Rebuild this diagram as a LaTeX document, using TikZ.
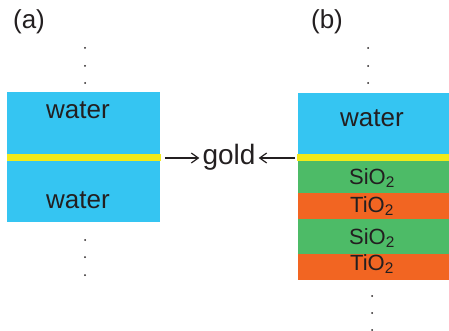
\documentclass[tikz,border=0pt]{standalone}
\usepackage{fontspec}
\setmainfont{Liberation Sans}
\usetikzlibrary{arrows.meta}
\definecolor{waterblue}{HTML}{35C5F2}
\definecolor{goldyellow}{HTML}{F2EA1A}
\definecolor{sio}{HTML}{4DBB67}
\definecolor{tio}{HTML}{F26522}
\definecolor{ink}{HTML}{231F20}
\begin{document}
\begin{tikzpicture}[x=1pt,y=-1pt,
  lbl/.style={text=ink,inner sep=0pt,font=\fontsize{26}{30}\selectfont},
  layerlbl/.style={text=ink,inner sep=0pt,font=\fontsize{22}{26}\selectfont},
  dotmark/.style={fill=ink,circle,inner sep=0pt,minimum size=2pt},
  pointer/.style={draw=ink,line width=1.2pt,shorten >=3pt,
    -{Straight Barb[length=7pt,width=10pt,line width=1.2pt]}}]
\useasboundingbox (0,0) rectangle (449,331);
% panel (a)
\node[lbl] (la) at (29,22) {(a)};
\fill[waterblue] (7,92) rectangle (160,222);
\fill[goldyellow] (7,154) rectangle (161,161);
\node[lbl] (wa1) at (78,110) {water};
\node[lbl] (wa2) at (78,200) {water};
\foreach \y [count=\i] in {48,66,83} \node[dotmark] (ta\i) at (85,\y) {};
\foreach \y [count=\i] in {240,257,275} \node[dotmark] (ba\i) at (85,\y) {};
% panel (b)
\node[lbl] (lb) at (327,22) {(b)};
\fill[waterblue] (298,93) rectangle (449,154);
\fill[goldyellow] (297,154) rectangle (449,161);
\fill[sio] (298,161) rectangle (449,193);
\fill[tio] (298,193) rectangle (449,219);
\fill[sio] (298,219) rectangle (449,254);
\fill[tio] (298,254) rectangle (449,280);
\node[lbl] (wb) at (372,118) {water};
\node[layerlbl] (s1) at (372,178) {SiO\textsubscript{2}};
\node[layerlbl] (t1) at (372,206) {TiO\textsubscript{2}};
\node[layerlbl] (s2) at (372,238) {SiO\textsubscript{2}};
\node[layerlbl] (t2) at (372,264) {TiO\textsubscript{2}};
\foreach \y [count=\i] in {48,66,83} \node[dotmark] (tb\i) at (368,\y) {};
\foreach \y [count=\i] in {296,313,330} \node[dotmark] (bb\i) at (372,\y) {};
% gold label with pointers
\node[lbl,font=\fontsize{28}{32}\selectfont] (gold) at (229,157) {gold};
\coordinate (ga) at (165,158);
\coordinate (gb) at (295,158);
\draw[pointer] (ga) -- (gold.west |- ga);
\draw[pointer] (gb) -- (gold.east |- gb);
\end{tikzpicture}
\end{document}
